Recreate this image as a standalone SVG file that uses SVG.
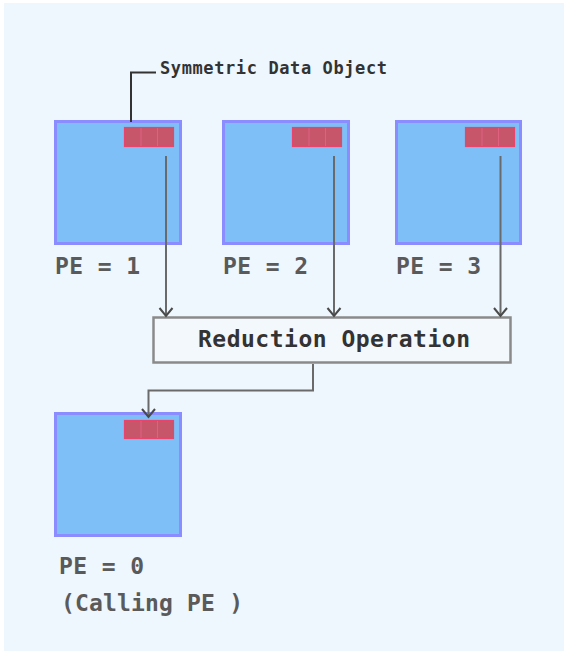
<svg xmlns="http://www.w3.org/2000/svg" width="568" height="654" viewBox="0 0 568 654">
<defs>
<style>
.pe{fill:#7fbff7;stroke:#8a8cff;stroke-width:3}
.sdo{fill:#c8566a;stroke:#e8446c;stroke-width:1.2}
.cell{stroke:#e06080;stroke-width:1}
.lbl{font-family:"DejaVu Sans Mono","Liberation Mono",monospace;font-weight:bold;font-size:23px;fill:#5a5a5a}
.conn{fill:none;stroke:#6a6a6a;stroke-width:2}
</style>
<marker id="ah" markerWidth="14" markerHeight="18" refX="11" refY="9" orient="auto" markerUnits="userSpaceOnUse" viewBox="0 0 14 18">
<path d="M3,2.5 L11,9 L3,15.5" fill="none" stroke="#4a4a4a" stroke-width="2"/>
</marker>
</defs>
<rect x="4" y="3" width="560" height="648" fill="#eef6fe"/>

<g id="pe1">
<rect class="pe" x="55.5" y="121.5" width="125" height="122"/>
<rect class="sdo" x="124.5" y="127.5" width="49" height="19"/>
<path class="cell" d="M141,128V146M157.5,128V146"/>
<text class="lbl" x="55" y="274" textLength="85">PE = 1</text>
</g>
<g id="pe2">
<rect class="pe" x="223.5" y="121.5" width="125" height="122"/>
<rect class="sdo" x="292.5" y="127.5" width="49" height="19"/>
<path class="cell" d="M309,128V146M325.5,128V146"/>
<text class="lbl" x="223" y="274" textLength="85">PE = 2</text>
</g>
<g id="pe3">
<rect class="pe" x="396.5" y="121.5" width="124" height="122"/>
<rect class="sdo" x="465.5" y="127.5" width="49" height="19"/>
<path class="cell" d="M482,128V146M498.5,128V146"/>
<text class="lbl" x="396" y="274" textLength="85">PE = 3</text>
</g>
<g id="reduction">
<rect x="153.5" y="317.5" width="357" height="45" fill="#f3f8fd" stroke="#8a8a8a" stroke-width="2.5"/>
<text x="334" y="347" text-anchor="middle" font-family="'DejaVu Sans Mono','Liberation Mono',monospace" font-weight="bold" font-size="23" fill="#333" textLength="272">Reduction Operation</text>
</g>
<g id="pe0">
<rect class="pe" x="55.5" y="413.5" width="125" height="122"/>
<rect class="sdo" x="124.5" y="420.5" width="49" height="18"/>
<path class="cell" d="M141,421V438M157.5,421V438"/>
<text class="lbl" x="59" y="574" textLength="85">PE = 0</text>
<text class="lbl" x="61" y="611" textLength="182">(Calling PE )</text>
</g>
<g id="symlabel">
<path d="M131,122V72.5H156" fill="none" stroke="#333" stroke-width="2"/>
<text x="160" y="74" font-family="'DejaVu Sans Mono','Liberation Mono',monospace" font-weight="bold" font-size="17" fill="#333" textLength="227">Symmetric Data Object</text>
</g>
<g id="connectors">
<path class="conn" d="M166,156V316" marker-end="url(#ah)"/>
<path class="conn" d="M334,156V316" marker-end="url(#ah)"/>
<path class="conn" d="M500.5,156V316" marker-end="url(#ah)"/>
<path class="conn" d="M313,364V390.5H148.5V417" marker-end="url(#ah)"/>
</g>
</svg>
